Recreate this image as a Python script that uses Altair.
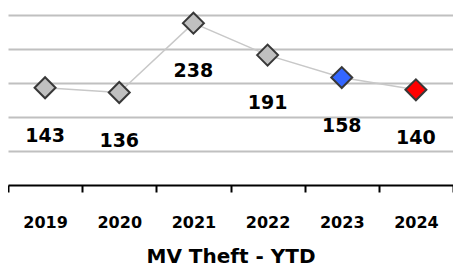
import altair as alt
import pandas as pd

years = ["2019", "2020", "2021", "2022", "2023", "2024"]
values = [143, 136, 238, 191, 158, 140]
kinds = ["past", "past", "past", "past", "prior", "current"]

df = pd.DataFrame({"year": years, "value": values, "kind": kinds})

FONT = "DejaVu Sans"

x = alt.X("year:N", sort=years,
          scale=alt.Scale(paddingInner=0, paddingOuter=0),
          axis=alt.Axis(title="MV Theft - YTD", labelAngle=0, labelFont=FONT,
                        labelFontSize=16, labelFontWeight="bold", labelColor="#000",
                        labelPadding=22, titleFont=FONT, titleFontSize=20,
                        titleFontWeight="bold", titleColor="#000", titlePadding=16,
                        domainColor="#000", domainWidth=2, tickColor="#000",
                        tickWidth=2, tickSize=7, tickBand="extent", grid=False))
y = alt.Y("value:Q", scale=alt.Scale(domain=[0, 250], nice=False),
          axis=alt.Axis(title=None, labels=False, ticks=False, domain=False,
                        grid=True, values=[50, 100, 150, 200, 250],
                        gridColor="#c0c0c0", gridWidth=2))

line = alt.Chart(df).mark_line(color="#c8c8c8", strokeWidth=1.5).encode(x=x, y=y)
pts = alt.Chart(df).mark_point(shape="diamond", size=440, filled=True,
                               stroke="#383838", strokeWidth=2, opacity=1).encode(
    x=x, y=y,
    fill=alt.Fill("kind:N", scale=alt.Scale(domain=["past", "prior", "current"],
                                             range=["#c0c0c0", "#3366ff", "#ff0000"]),
                  legend=None))
labels = alt.Chart(df).mark_text(font=FONT, fontSize=19, fontWeight="bold",
                                 color="#000", dy=48, baseline="middle").encode(
    x=x, y=y, text="value:Q")

chart = alt.layer(line, pts, labels).properties(
    width=445, height=170,
    autosize=alt.AutoSizeParams(type="none"),
    padding={"left": 0, "top": 7, "right": 0, "bottom": 84},
).configure_view(stroke=None)

chart.save("out.html", embed_options={"renderer": "svg", "actions": False})
